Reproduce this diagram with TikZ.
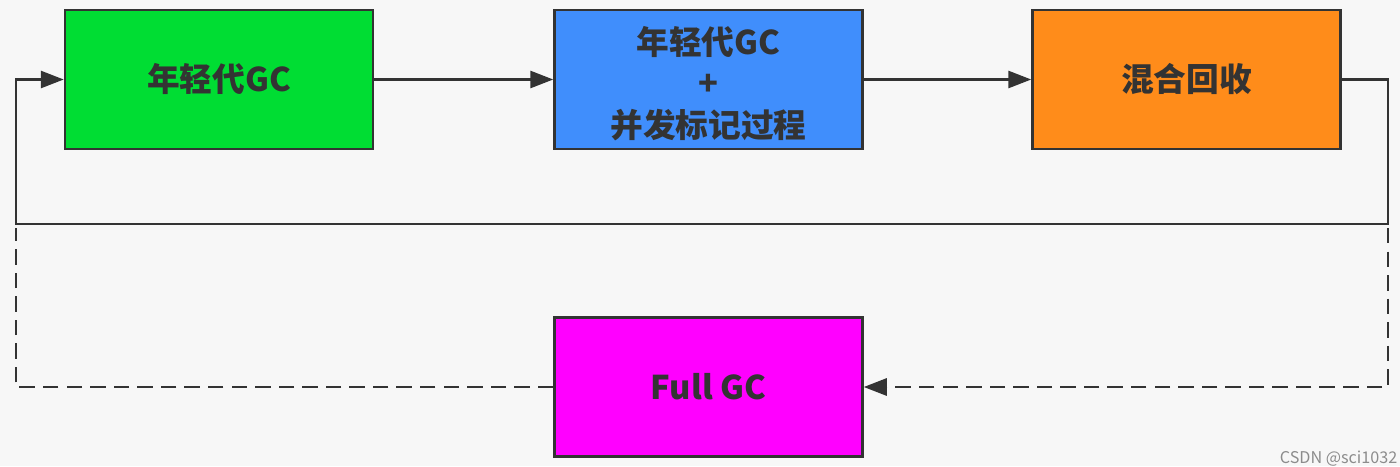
\documentclass[tikz,border=0pt]{standalone}
\usepackage{fontspec}
\newfontfamily\cjk{Noto Sans CJK SC}
\usetikzlibrary{arrows.meta, calc}

\begin{document}
\begin{tikzpicture}[x=0.01cm, y=0.01cm,
  gctext/.style={inner sep=0pt, align=center, font=\cjk\bfseries\fontsize{9.3}{11.8}\selectfont, text=black!80},
  gcbox/.style={gctext, draw=black!80, line width=0.65pt, minimum width=3.08cm, minimum height=1.39cm},
  flow/.style={draw=black!80, line width=0.8pt, -{Triangle[length=2.3mm,width=1.7mm]}},
  fallback/.style={flow, dash pattern=on 4.4pt off 2.3pt}]
% Background and page size
\fill[black!3] (0,0) rectangle (1400,466);
\useasboundingbox (0,0) rectangle (1400,466);
% Draw the three stages of the cycle
\node[gcbox, fill={rgb,255:red,0;green,221;blue,51}] (young) at (219,386.5) {年轻代GC};
\node[gcbox, fill={rgb,255:red,64;green,142;blue,252}] (mark) at (708.5,386.5) {};
\node[gctext] (mark-text) at ($(mark)+(0,-4)$) {年轻代GC\\+\\并发标记过程};
\node[gcbox, fill={rgb,255:red,255;green,140;blue,26}] (mixed) at (1186.5,386.5) {混合回收};
% Draw the fallback stage
\node[gcbox, fill={rgb,255:red,255;green,0;blue,255}] (full) at (708.5,79) {Full GC};
% Corners of the return loop
\coordinate (loop-r) at (1388,242);
\coordinate (loop-l) at (16,242);
\coordinate (dash-r) at (1388,238);
\coordinate (dash-l) at (16,238);
% Draw the forward arrows
\draw[flow] (young) -- (mark);
\draw[flow] (mark) -- (mixed);
% Draw the solid return loop
\draw[flow] (mixed.east) -| (loop-r) -- (loop-l) |- (young.west);
% Draw the dashed path through Full GC
\draw[fallback] (dash-r) |- (full.east);
\draw[fallback, -] (full.west) -| (dash-l);
% Watermark
\node[anchor=south east, inner sep=0pt, text=black!45, font=\cjk\fontsize{4.6}{6}\selectfont] (mark-csdn) at (1398,-1) {CSDN @sci1032};
\end{tikzpicture}
\end{document}
